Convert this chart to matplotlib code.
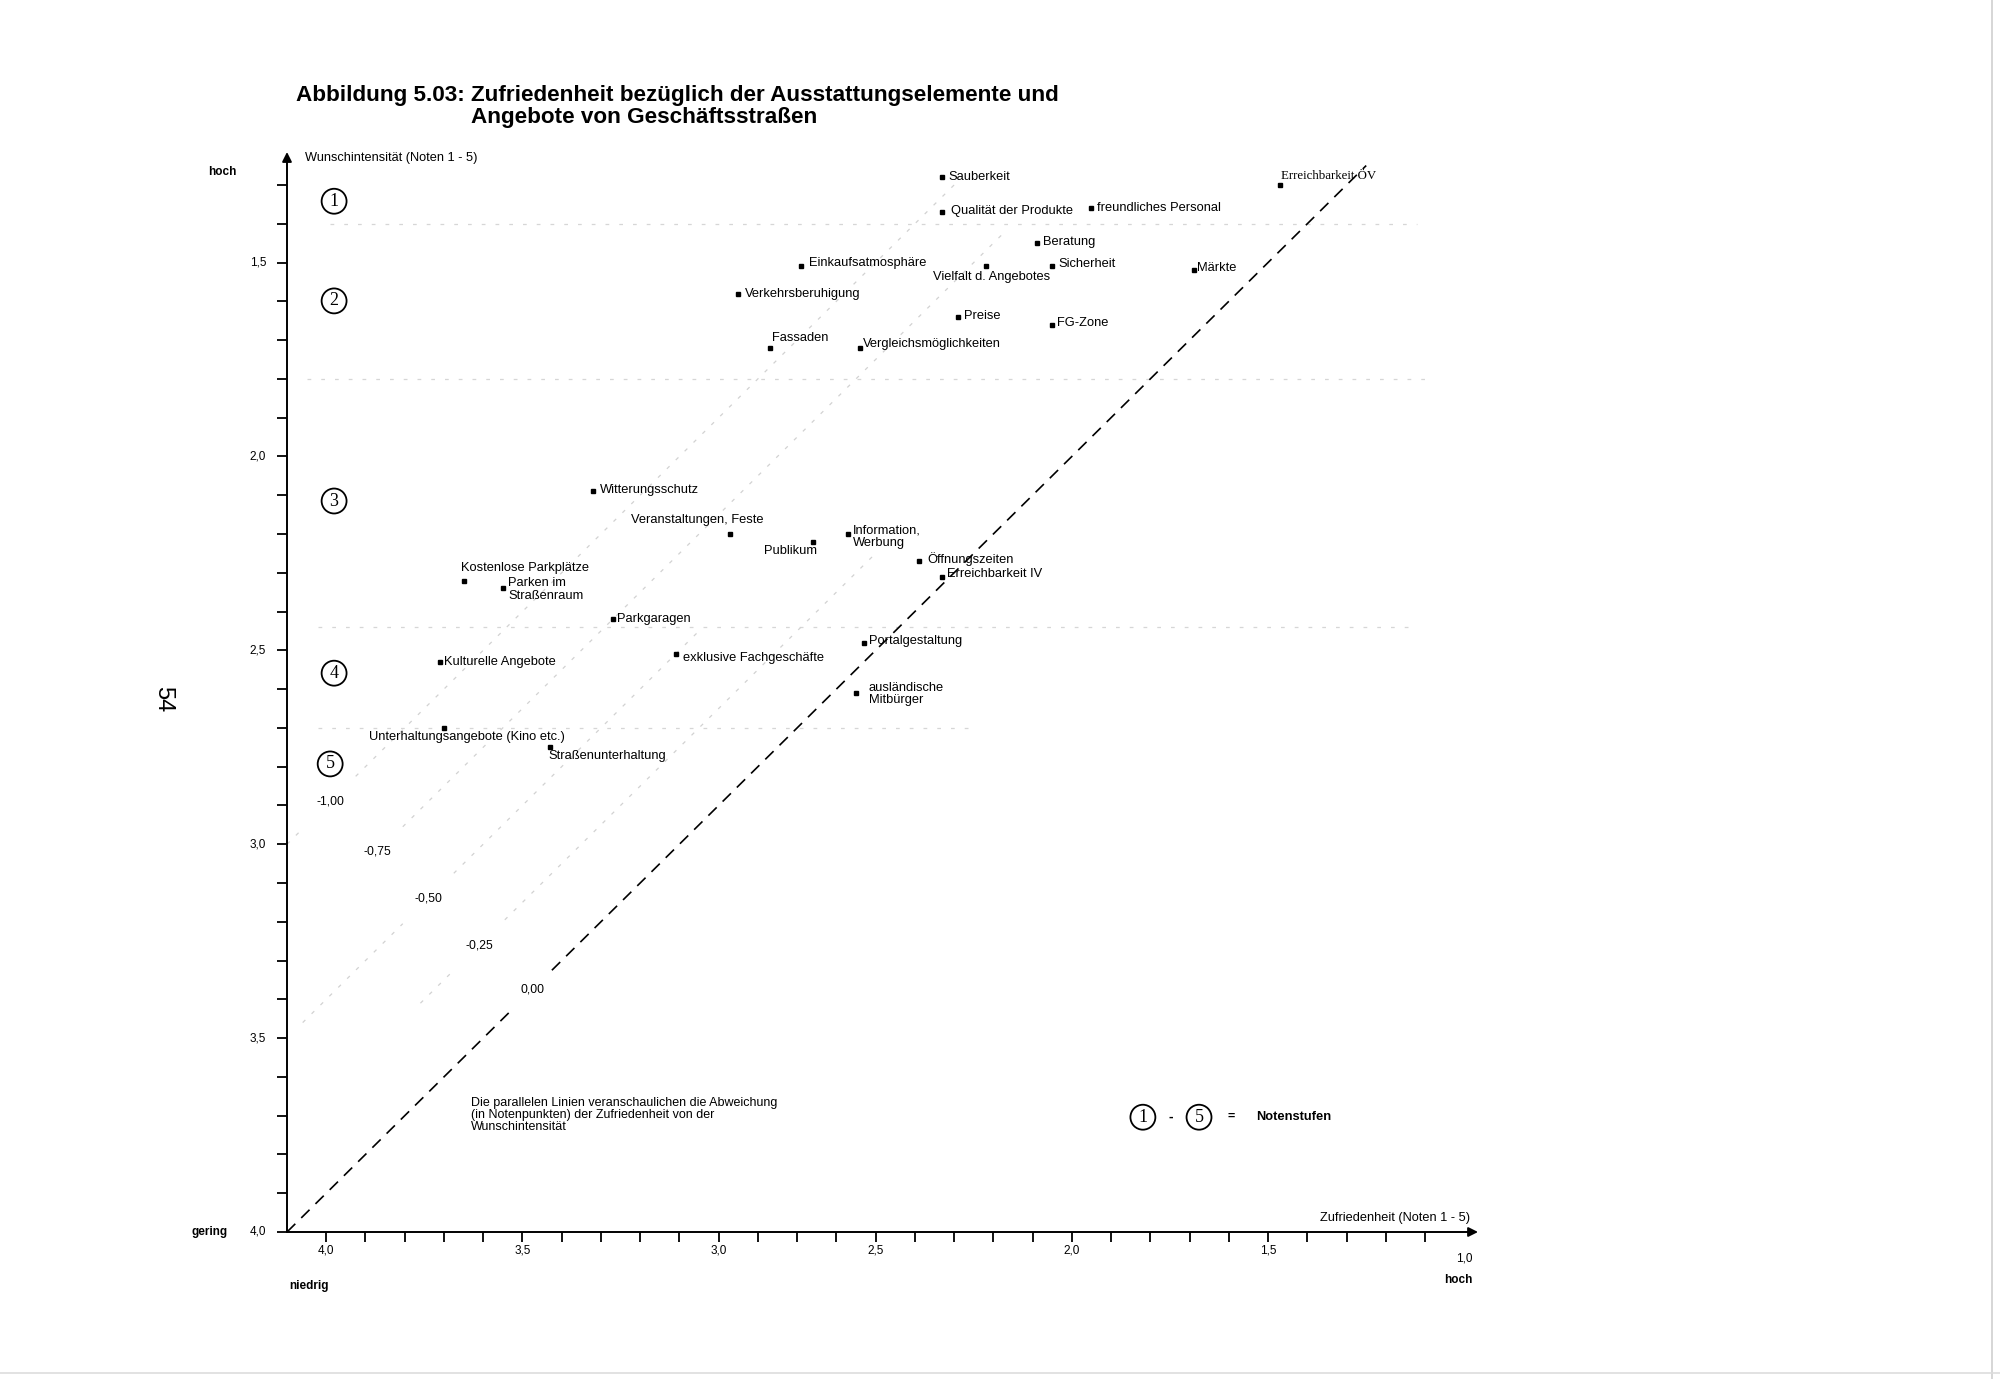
import matplotlib
matplotlib.use('Agg')
import matplotlib.pyplot as plt
import numpy as np

# ---------------- data ----------------
items = ['Sauberkeit', 'Qualität der Produkte', 'freundliches Personal', 'Erreichbarkeit ÖV',
         'Beratung', 'Einkaufsatmosphäre', 'Vielfalt d. Angebotes', 'Sicherheit', 'Märkte',
         'Verkehrsberuhigung', 'Preise', 'FG-Zone', 'Fassaden', 'Vergleichsmöglichkeiten',
         'Witterungsschutz', 'Veranstaltungen, Feste', 'Publikum', 'Information,\nWerbung',
         'Öffnungszeiten', 'Erreichbarkeit IV', 'Kostenlose Parkplätze', 'Parken im\nStraßenraum',
         'Parkgaragen', 'Portalgestaltung', 'Kulturelle Angebote', 'exklusive Fachgeschäfte',
         'ausländische\nMitbürger', 'Unterhaltungsangebote (Kino etc.)', 'Straßenunterhaltung']
zufriedenheit = [2.33, 2.33, 1.95, 1.47, 2.09, 2.69, 2.22, 2.05, 1.69, 2.85, 2.29, 2.05, 2.77, 2.54,
                 3.22, 2.87, 2.66, 2.57, 2.39, 2.33, 3.55, 3.45, 3.17, 2.53, 3.61, 3.01, 2.55,
                 3.60, 3.33]
wunsch = [1.28, 1.37, 1.36, 1.30, 1.45, 1.51, 1.51, 1.51, 1.52, 1.58, 1.64, 1.66, 1.72, 1.72,
          2.09, 2.20, 2.22, 2.20, 2.27, 2.31, 2.32, 2.34, 2.42, 2.48, 2.53, 2.51, 2.61,
          2.70, 2.75]

diag_offsets = [0.00, -0.25, -0.50, -0.75, -1.00]
diag_labels = ['0,00', '-0,25', '-0,50', '-0,75', '-1,00']
diag_label_x = [3.375, 3.51, 3.64, 3.77, 3.89]
diag_start_x = [4.00, 3.66, 3.96, 3.77, 4.00]
diag_end_x = [1.25, 2.50, 2.95, 2.17, 2.30]

grade_bounds = [1.40, 1.80, 2.44, 2.70]
grade_bound_from = [3.89, 3.95, 3.92, 3.92]
grade_bound_to = [1.12, 1.08, 1.12, 2.25]

grade_names = ['1', '2', '3', '4', '5']
grade_label_x = [3.88, 3.88, 3.88, 3.88, 3.89]
grade_label_y = [1.342, 1.599, 2.115, 2.559, 2.793]

y_tick_values = [1.5, 2.0, 2.5, 3.0, 3.5, 4.0]
y_tick_texts = ['1,5', '2,0', '2,5', '3,0', '3,5', '4,0']
x_tick_values = [3.9, 3.4, 2.9, 2.5, 2.0, 1.5]
x_tick_texts = ['4,0', '3,5', '3,0', '2,5', '2,0', '1,5']

# ---------------- label placement (style) ----------------
# offsets (dx, dy) in reference pixels, converted to points, horizontal alignment
S = 0.918
label_style = {
    'Sauberkeit': (5, 0, 'left'),
    'Qualität der Produkte': (7, 1, 'left'),
    'freundliches Personal': (4, 0, 'left'),
    'Erreichbarkeit ÖV': (1, 7, 'left'),
    'Beratung': (5, 1, 'left'),
    'Einkaufsatmosphäre': (6, 3, 'left'),
    'Vielfalt d. Angebotes': (5, -8, 'center'),
    'Sicherheit': (5, 2, 'left'),
    'Märkte': (3, 2, 'left'),
    'Verkehrsberuhigung': (5, 0, 'left'),
    'Preise': (5, 1, 'left'),
    'FG-Zone': (4, 1, 'left'),
    'Fassaden': (2, 8, 'left'),
    'Vergleichsmöglichkeiten': (2, 3, 'left'),
    'Witterungsschutz': (5, 1, 'left'),
    'Veranstaltungen, Feste': (-26, 11, 'center'),
    'Publikum': (3, -7, 'right'),
    'Information,\nWerbung': (4, -2, 'left'),
    'Öffnungszeiten': (7, 2, 'left'),
    'Erreichbarkeit IV': (4, 2, 'left'),
    'Kostenlose Parkplätze': (-2, 10, 'left'),
    'Parken im\nStraßenraum': (4, -1, 'left'),
    'Parkgaragen': (3, 0, 'left'),
    'Portalgestaltung': (4, 1, 'left'),
    'Kulturelle Angebote': (3, 0, 'left'),
    'exklusive Fachgeschäfte': (6, -3, 'left'),
    'ausländische\nMitbürger': (10, -1, 'left'),
    'Unterhaltungsangebote (Kino etc.)': (-59, -7, 'left'),
    'Straßenunterhaltung': (-1, -7, 'left'),
}

plt.rcParams['font.family'] = ['Liberation Sans', 'DejaVu Sans']

fig = plt.figure(figsize=(20, 13.79), dpi=100)
ax = fig.add_axes([0.1435, 0.1066, 0.5965, 0.7874])
ax.set_xlim(4.0, 0.96)
ax.set_ylim(4.0, 1.20)
for sp in ax.spines.values():
    sp.set_visible(False)

# axes with arrows
ax.annotate('', xy=(4.0, 1.215), xytext=(4.0, 4.0),
            arrowprops=dict(arrowstyle='-|>', lw=1.4, color='black', mutation_scale=14,
                            shrinkA=0, shrinkB=0), annotation_clip=False)
ax.annotate('', xy=(0.965, 4.0), xytext=(4.0, 4.0),
            arrowprops=dict(arrowstyle='-|>', lw=1.4, color='black', mutation_scale=14,
                            shrinkA=0, shrinkB=0), annotation_clip=False)

# ticks every 0.1
ax.set_yticks(np.round(np.arange(1.3, 4.001, 0.1), 1))
ax.set_yticklabels([])
ax.set_xticks(np.round(np.arange(1.1, 3.901, 0.1), 1))
ax.set_xticklabels([])
ax.tick_params(axis='both', direction='out', length=7, width=1.3, color='black')
for v, t in zip(y_tick_values, y_tick_texts):
    ax.annotate(t, xy=(4.0, v), xytext=(-15, 0), textcoords='offset points',
                ha='right', va='center', fontsize=8.5, annotation_clip=False)
for v, t in zip(x_tick_values, x_tick_texts):
    ax.annotate(t, xy=(v, 4.0), xytext=(0, -13), textcoords='offset points',
                ha='center', va='center', fontsize=8.5, annotation_clip=False)
ax.annotate('1,0', xy=(1.0, 4.0), xytext=(0, -19), textcoords='offset points',
            ha='center', va='center', fontsize=8.5, annotation_clip=False)

# grade boundaries
for yb, x0, x1 in zip(grade_bounds, grade_bound_from, grade_bound_to):
    ax.plot([x0, x1], [yb, yb], color='#d6d6d6', lw=0.9, ls=(0, (3, 8)), zorder=1)

# diagonal deviation lines with gaps at labels
for d, lab, lx, xs, xe in zip(diag_offsets, diag_labels, diag_label_x, diag_start_x, diag_end_x):
    gap = 0.05 if d == 0 else 0.065
    if d == 0:
        kw = dict(color='black', lw=1.2, ls=(0, (7, 5)), zorder=2)
    else:
        kw = dict(color='#d2d2d2', lw=0.9, ls=(0, (3, 7)), zorder=1)
    if xs > lx + gap:
        ax.plot([xs, lx + gap], [xs + d, lx + gap + d], **kw)
    ax.plot([lx - gap, xe], [lx - gap + d, xe + d], **kw)
    ax.text(lx, lx + d, lab, ha='center', va='center', fontsize=8.8, zorder=3)

# grade circles
for g, gx, gy in zip(grade_names, grade_label_x, grade_label_y):
    ax.text(gx, gy, g, ha='center', va='center', fontsize=13, family='Liberation Serif',
            bbox=dict(boxstyle='circle,pad=0.22', fc='white', ec='black', lw=1.3), zorder=4)

# points
ax.plot(zufriedenheit, wunsch, ls='none', marker='s', ms=3.3, color='black', zorder=5)
for name, xv, yv in zip(items, zufriedenheit, wunsch):
    dx, dy, ha = label_style[name]
    fam = 'Liberation Serif' if name == 'Erreichbarkeit ÖV' else 'Liberation Sans'
    ax.annotate(name, xy=(xv, yv), xytext=(dx * S, dy * S), textcoords='offset points',
                ha=ha, va='center', fontsize=9.3, linespacing=1.05, family=fam,
                zorder=6, annotation_clip=False)

# axis titles and annotations
ax.text(3.955, 1.230, 'Wunschintensität (Noten 1 - 5)', ha='left', va='center', fontsize=9.2)
ax.text(0.984, 3.964, 'Zufriedenheit (Noten 1 - 5)', ha='right', va='center', fontsize=9.2)
ax.text(4.165, 1.266, 'hoch', ha='center', va='center', fontsize=8.5, fontweight='bold', clip_on=False)
ax.text(4.198, 4.0, 'gering', ha='center', va='center', fontsize=8.5, fontweight='bold', clip_on=False)
ax.text(3.995, 4.138, 'niedrig', ha='left', va='center', fontsize=8.5, fontweight='bold', clip_on=False)
ax.text(0.978, 4.125, 'hoch', ha='right', va='center', fontsize=8.5, fontweight='bold', clip_on=False)

ax.text(3.532, 3.652, 'Die parallelen Linien veranschaulichen die Abweichung\n'
        '(in Notenpunkten) der Zufriedenheit von der\nWunschintensität',
        ha='left', va='top', fontsize=9.0, linespacing=1.0)

# legend for grade circles
ax.text(1.819, 3.704, '1', ha='center', va='center', fontsize=13, family='Liberation Serif',
        bbox=dict(boxstyle='circle,pad=0.22', fc='white', ec='black', lw=1.3))
ax.text(1.748, 3.704, '-', ha='center', va='center', fontsize=10, fontweight='bold')
ax.text(1.676, 3.704, '5', ha='center', va='center', fontsize=13, family='Liberation Serif',
        bbox=dict(boxstyle='circle,pad=0.22', fc='white', ec='black', lw=1.3))
ax.text(1.595, 3.704, '=', ha='center', va='center', fontsize=9, fontweight='bold')
ax.text(1.53, 3.704, 'Notenstufen', ha='left', va='center', fontsize=9.3, fontweight='bold')

# title
fig.text(0.148, 0.931, 'Abbildung 5.03:', ha='left', va='center', fontsize=16.2, fontweight='bold')
fig.text(0.2353, 0.931, 'Zufriedenheit bezüglich der Ausstattungselemente und',
         ha='left', va='center', fontsize=16.2, fontweight='bold')
fig.text(0.2353, 0.9145, 'Angebote von Geschäftsstraßen',
         ha='left', va='center', fontsize=16.2, fontweight='bold')

# page number and scan border
fig.text(0.0815, 0.493, '54', ha='center', va='center', fontsize=17, rotation=-90)
fig.add_artist(plt.Line2D([0.996, 0.996], [0.0, 1.0], color='#cfcfcf', lw=1.2))
fig.add_artist(plt.Line2D([0.0, 1.0], [0.004, 0.004], color='#dddddd', lw=1.2))

fig.savefig('out.png', dpi=100, facecolor='white')
